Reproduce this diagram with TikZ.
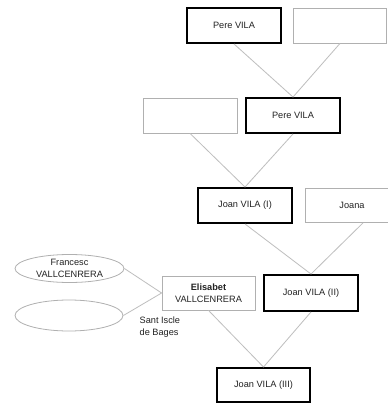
\documentclass[tikz,border=0pt]{standalone}
\usepackage{fontspec}
\setmainfont{Liberation Sans}
\usetikzlibrary{shapes.geometric}
\definecolor{thingray}{HTML}{B0B0B0}
\definecolor{linegray}{HTML}{BEBEBE}
\definecolor{txt}{HTML}{222222}
\begin{document}
\begin{tikzpicture}[x=1pt,y=-1pt,
  every node/.style={font=\fontsize{9.2}{11.5}\selectfont, text=txt, inner sep=0pt, align=center},
  thickbox/.style={draw=black, line width=1.9pt, rectangle, minimum width=94pt, minimum height=35pt},
  thinbox/.style={draw=thingray, line width=0.8pt, rectangle, minimum width=94pt, minimum height=35pt},
  oval/.style={draw=thingray, line width=0.8pt, ellipse, minimum width=109pt, minimum height=28pt},
  link/.style={draw=linegray, line width=0.8pt}]
\useasboundingbox (0,0) rectangle (387,403);
\fill[white] (0,0) rectangle (387,403);
% links
\node[thickbox] (p1) at (234,25.5) {Pere VILA};
\node[thinbox, minimum width=93pt] (e1) at (340,25.5) {};
\node[thinbox] (e2) at (190,115.5) {};
\node[thickbox] (p2) at (293,115.5) {Pere VILA};
\node[thickbox] (j1) at (245,205.5) {Joan VILA (I)};
\node[thinbox, minimum height=34pt] (joana) at (352,205.5) {Joana};
\node[thickbox, minimum height=36pt] (j2) at (311,293) {Joan VILA (II)};
\node[thinbox, minimum width=93pt, minimum height=34pt] (elis) at (208.5,293) {\textbf{Elisabet}\\VALLCENRERA};
\node[thickbox, minimum width=93pt, minimum height=34pt] (j3) at (263.5,385) {Joan VILA (III)};
\node[oval] (f1) at (69.5,268.5) {Francesc\\VALLCENRERA};
\node[oval, minimum width=108pt, minimum height=31pt] (f2) at (69,315.5) {};
\node[anchor=north west, align=left] (place) at (139.5,317) {Sant Iscle\\de Bages};
\draw[link] (p1.south) -- (p2.north);
\draw[link] (e1.south) -- (p2.north);
\draw[link] (e2.south) -- (j1.north);
\draw[link] (p2.south) -- (j1.north);
\draw[link] (j1.south) -- (j2.north);
\draw[link] ([xshift=11pt]joana.south) -- (j2.north);
\draw[link] (elis.south) -- (j3.north);
\draw[link] (j2.south) -- (j3.north);
\draw[link] (f1.east) -- (elis.west);
\draw[link] (f2.east) -- (elis.west);
\end{tikzpicture}
\end{document}
